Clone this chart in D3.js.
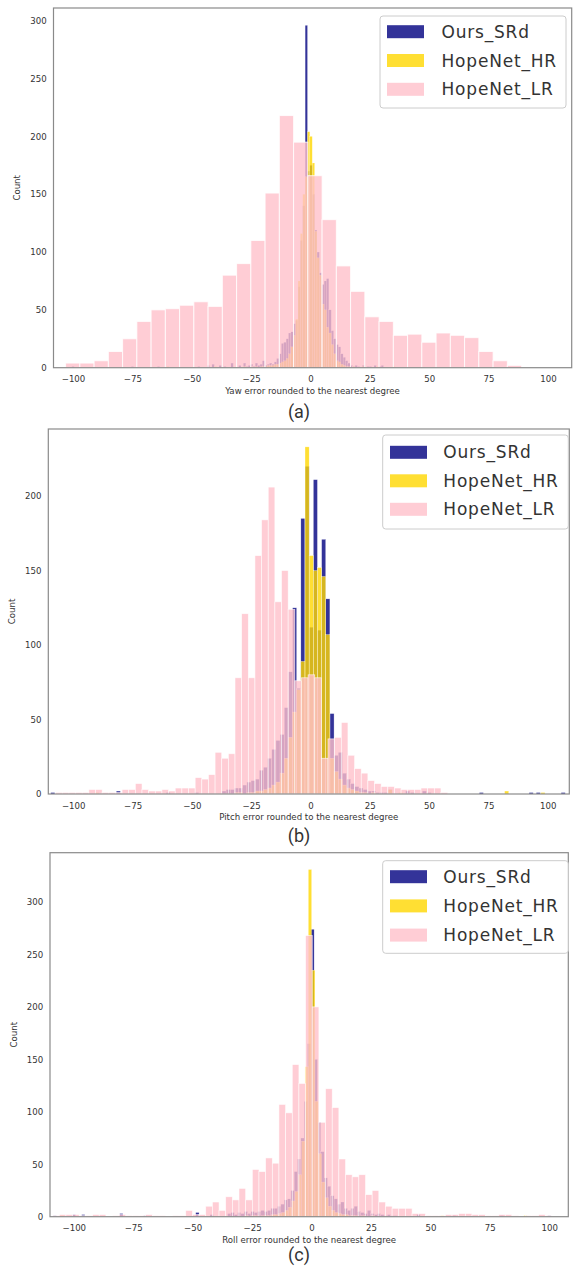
<!DOCTYPE html>
<html>
<head>
<meta charset="utf-8">
<script src="https://cdn.jsdelivr.net/npm/d3@7"></script>
<style>
  body { margin: 0; background: #fff; }
</style>
</head>
<body>
<svg id="fig" width="576" height="1273"></svg>
<script>
// ---------- data (histogram counts) ----------
const seriesNames = ['Ours_SRd', 'HopeNet_HR', 'HopeNet_LR'];
const xTicks = [-100, -75, -50, -25, 0, 25, 50, 75, 100];

// Yaw
const yawLRStart = -103.1, yawLRWidth = 6;
const yawLR = [4, 4, 6, 14, 25, 40, 50, 51, 54, 57, 53, 80, 90, 110, 151, 218, 195, 166, 128, 88, 66, 44, 40, 28, 29, 22, 30, 28, 26, 14, 6, 2];
const yawNarrowStart = -30.25, yawNarrowWidth = 1;
const yawSRd = [2, 0, 4, 1, 2, 3, 1, 4, 2, 3, 6, 2, 3, 4, 3, 5, 8, 12, 21, 22, 25, 30, 31, 38, 41, 70, 110, 140, 296, 170, 175, 150, 119, 100, 82, 72, 75, 77, 50, 32, 25, 20, 18, 12, 9, 6, 4, 2, 1, 2, 1, 0, 2, 0, 1, 1, 0, 2, 0, 1, 2];
const yawHR = [0, 0, 1, 0, 0, 1, 0, 1, 0, 1, 1, 1, 2, 2, 2, 3, 3, 4, 5, 6, 8, 12, 18, 28, 42, 75, 116, 150, 165, 204, 200, 177, 118, 95, 80, 55, 50, 35, 30, 20, 12, 6, 5, 3, 2, 1, 1, 0, 1, 0, 0, 0, 1, 0, 0, 0, 0, 0, 1, 0, 0];
const yawSRdTail = [[-100, 1], [-75, 1], [-64, 1], [-47, 1], [-43, 2], [-41, 3], [-38, 2], [-36, 1], [-33, 4]];
const yawHRTail = [[-60, 1], [-40, 1], [35, 1]];
const yawYTicks = [0, 50, 100, 150, 200, 250, 300];

// Pitch
const pitchLRStart = -107.4, pitchLRWidth = 2.8;
const pitchLR = [1, 1, 1, 1, 1, 3, 3, 1, 1, 1, 3, 3, 7, 3, 2, 2, 3, 2, 4, 4, 4, 11, 10, 13, 28, 24, 27, 78, 121, 78, 160, 184, 206, 129, 150, 124, 76, 78, 80, 78, 24, 37, 38, 48, 26, 17, 14, 9, 7, 5, 5, 4, 3, 3, 3, 4, 4, 4, 1];
const pitchNarrowStart = -37.3, pitchNarrowWidth = 1.75;
const pitchSRd = [2, 3, 3, 4, 4, 6, 8, 9, 10, 16, 18, 24, 30, 36, 40, 58, 82, 125, 71, 185, 220, 112, 211, 110, 171, 131, 54, 26, 28, 14, 10, 7, 5, 4, 3, 2, 2, 1, 1, 1, 3];
const pitchHR = [0, 0, 0, 1, 1, 0, 1, 1, 2, 2, 3, 4, 6, 8, 14, 24, 38, 55, 70, 89, 233, 160, 150, 152, 146, 107, 24, 15, 10, 6, 4, 3, 2, 1, 1, 0, 1, 0, 0, 0, 3];
const pitchSRdTail = [[-108.6, 1], [-81, 2], [-60, 1], [-48, 1], [41, 2], [43, 1], [48, 2], [50, 1], [72, 1], [93, 1], [96, 1], [106.5, 1]];
const pitchHRTail = [[-90, 1], [38, 1], [82.7, 2], [98, 1]];
const pitchYTicks = [0, 50, 100, 150, 200];

// Roll
const rollLRStart = -108.9, rollLRWidth = 2.8;
const rollLR = [1, 2, 2, 2, 1, 1, 2, 2, 0, 1, 2, 1, 1, 1, 2, 1, 1, 0, 1, 1, 6, 2, 2, 10, 14, 6, 19, 16, 27, 16, 45, 43, 56, 51, 107, 99, 145, 127, 268, 200, 90, 122, 104, 55, 40, 38, 40, 21, 25, 14, 10, 8, 8, 8, 3, 3, 1, 1, 1, 2, 2, 3, 3, 2, 2, 1, 1, 2, 2, 1, 0, 1, 1, 2, 1];
const rollHRStart = -29.35, rollHRWidth = 1.4;
const rollHR = [0, 1, 0, 1, 1, 0, 1, 1, 1, 2, 2, 3, 4, 6, 9, 15, 24, 40, 72, 143, 331, 235, 110, 60, 33, 18, 10, 6, 4, 3, 2, 2, 1, 1, 1, 0, 1, 0, 0, 1, 0];
const rollSRdStart = -35.3, rollSRdWidth = 1.4;
const rollSRd = [3, 4, 2, 4, 3, 5, 3, 5, 4, 5, 6, 5, 6, 8, 8, 10, 12, 16, 17, 25, 43, 55, 75, 110, 165, 274, 150, 90, 62, 37, 29, 20, 17, 12, 14, 8, 6, 8, 10, 5, 4, 3, 6, 3, 2, 3, 2, 1, 2, 1, 1];
const rollSRdTail = [[-108, 1], [-100, 2], [-96, 2], [-80, 3], [-70, 1], [-48, 4], [-42, 2], [45, 2], [60, 1], [80, 1], [100, 1]];
const rollHRTail = [[-105, 1], [55, 1], [90, 1]];
const rollYTicks = [0, 50, 100, 150, 200, 250, 300];

// ---------- helpers ----------
function toBins(start, width, counts) {
  return counts.map((n, i) => ({ x0: start + i * width, x1: start + (i + 1) * width, n }));
}
function tailBins(tail, width) {
  return tail.map(([c, n]) => ({ x0: c - width / 2, x1: c + width / 2, n }));
}

const colors = { 'Ours_SRd': '#000080', 'HopeNet_HR': '#FFD700', 'HopeNet_LR': '#FFC0CB' };
const alpha = 0.8;

const panels = [
  {
    frame: { l: 53.5, r: 571.7, t: 8, b: 367.7 }, xDom: [-108.2, 110], yMax: 311, yTicks: yawYTicks,
    xlabel: 'Yaw error rounded to the nearest degree', caption: '(a)', capY: 418,
    legend: { l: 380, r: 566, t: 16, b: 108, row0: 31.7, dy: 28.8, px: 387, tx: 441.5 },
    series: [
      toBins(yawNarrowStart, yawNarrowWidth, yawSRd).concat(tailBins(yawSRdTail, yawNarrowWidth)),
      toBins(yawNarrowStart, yawNarrowWidth, yawHR).concat(tailBins(yawHRTail, yawNarrowWidth)),
      toBins(yawLRStart, yawLRWidth, yawLR)
    ]
  },
  {
    frame: { l: 48.3, r: 569.3, t: 429, b: 794 }, xDom: [-110.5, 109.1], yMax: 245, yTicks: pitchYTicks,
    xlabel: 'Pitch error rounded to the nearest degree', caption: '(b)', capY: 842,
    legend: { l: 382.7, r: 568.3, t: 435, b: 529, row0: 452.3, dy: 28.5, px: 390, tx: 443.3 },
    series: [
      toBins(pitchNarrowStart, pitchNarrowWidth, pitchSRd).concat(tailBins(pitchSRdTail, pitchNarrowWidth)),
      toBins(pitchNarrowStart, pitchNarrowWidth, pitchHR).concat(tailBins(pitchHRTail, pitchNarrowWidth)),
      toBins(pitchLRStart, pitchLRWidth, pitchLR)
    ]
  },
  {
    frame: { l: 50, r: 568.3, t: 852.7, b: 1216.7 }, xDom: [-110, 108], yMax: 347, yTicks: rollYTicks,
    xlabel: 'Roll error rounded to the nearest degree', caption: '(c)', capY: 1261,
    legend: { l: 382.7, r: 568.3, t: 860.7, b: 953.3, row0: 876.7, dy: 29.2, px: 390, tx: 443.3 },
    series: [
      toBins(rollSRdStart, rollSRdWidth, rollSRd).concat(tailBins(rollSRdTail, rollSRdWidth)),
      toBins(rollHRStart, rollHRWidth, rollHR).concat(tailBins(rollHRTail, rollSRdWidth)),
      toBins(rollLRStart, rollLRWidth, rollLR)
    ]
  }
];

const svg = d3.select('#fig');
const tickFont = 'DejaVu Sans, sans-serif';

panels.forEach(p => {
  const f = p.frame;
  const x = d3.scaleLinear().domain(p.xDom).range([f.l, f.r]);
  const y = d3.scaleLinear().domain([0, p.yMax]).range([f.b, f.t]);
  const g = svg.append('g');

  // bars: SRd first, then HR, LR on top
  p.series.forEach((bins, si) => {
    const name = seriesNames[si];
    g.append('g').selectAll('rect')
      .data(bins.filter(d => d.n > 0))
      .enter().append('rect')
      .attr('x', d => x(d.x0))
      .attr('width', d => x(d.x1) - x(d.x0))
      .attr('y', d => y(d.n))
      .attr('height', d => y(0) - y(d.n))
      .attr('fill', colors[name])
      .attr('fill-opacity', alpha)
      .attr('stroke', '#fff')
      .attr('stroke-opacity', alpha)
      .attr('stroke-width', d => Math.min(1, 0.1 * (x(d.x1) - x(d.x0))));
  });

  // axes
  const xa = g.append('g')
    .attr('transform', `translate(0,${f.b})`)
    .call(d3.axisBottom(x).tickValues(xTicks).tickSize(0).tickPadding(8.6)
      .tickFormat(d => d < 0 ? '\u2212' + Math.abs(d) : d));
  const ya = g.append('g')
    .attr('transform', `translate(${f.l},0)`)
    .call(d3.axisLeft(y).tickValues(p.yTicks).tickSize(0).tickPadding(6.8));
  [xa, ya].forEach(a => {
    a.select('.domain').remove();
    a.selectAll('text').attr('font-family', tickFont).attr('font-size', 8.6).attr('fill', '#333');
  });

  // frame
  g.append('rect')
    .attr('x', f.l).attr('y', f.t)
    .attr('width', f.r - f.l).attr('height', f.b - f.t)
    .attr('fill', 'none').attr('stroke', '#8a8a8a').attr('stroke-width', 1.2);

  // axis labels
  g.append('text')
    .attr('x', (f.l + f.r) / 2).attr('y', f.b + 26)
    .attr('text-anchor', 'middle')
    .attr('font-family', tickFont).attr('font-size', 8.6).attr('fill', '#333')
    .text(p.xlabel);
  const cy = (f.t + f.b) / 2;
  const cx = f.l - 33.5;
  g.append('text')
    .attr('transform', `translate(${cx},${cy}) rotate(-90)`)
    .attr('text-anchor', 'middle')
    .attr('font-family', tickFont).attr('font-size', 8.6).attr('fill', '#333')
    .text('Count');

  // legend
  const L = p.legend;
  g.append('rect')
    .attr('x', L.l).attr('y', L.t).attr('width', L.r - L.l).attr('height', L.b - L.t)
    .attr('rx', 3)
    .attr('fill', '#fff').attr('fill-opacity', 0.8)
    .attr('stroke', '#cccccc').attr('stroke-width', 1);
  seriesNames.forEach((name, i) => {
    const ry = L.row0 + i * L.dy;
    g.append('rect')
      .attr('x', L.px).attr('y', ry - 6.5).attr('width', 37).attr('height', 13)
      .attr('fill', colors[name]).attr('fill-opacity', alpha);
    g.append('text')
      .attr('x', L.tx).attr('y', ry + 6)
      .attr('font-family', tickFont).attr('font-size', 17).attr('letter-spacing', 0.8)
      .attr('fill', '#333')
      .text(name);
  });

  // caption
  svg.append('text')
    .attr('x', 299).attr('y', p.capY)
    .attr('text-anchor', 'middle')
    .attr('font-family', 'Roboto, sans-serif').attr('font-size', 18).attr('fill', '#333')
    .text(p.caption);
});
</script>
</body>
</html>
